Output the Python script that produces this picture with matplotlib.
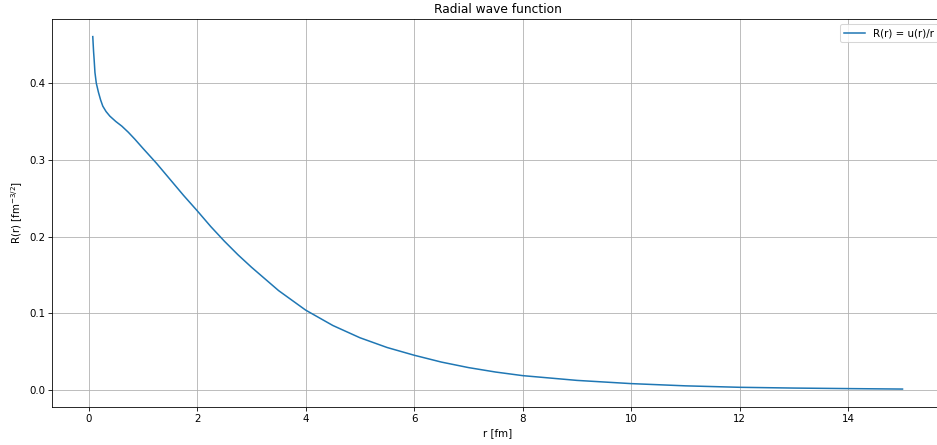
import matplotlib
matplotlib.use('Agg')
import matplotlib.pyplot as plt

# values
r = [0.075, 0.09, 0.10, 0.115, 0.14, 0.18, 0.22, 0.26, 0.32, 0.39, 0.5,
     0.61, 0.73, 0.85, 1.0, 1.25, 1.5, 1.75, 2.0, 2.25, 2.5, 2.75, 3.0,
     3.5, 4.0, 4.5, 5.0, 5.5, 6.0, 6.5, 7.0, 7.5, 8.0, 9.0, 10.0,
     11.0, 12.0, 13.0, 14.0, 15.0]
R = [0.4607, 0.441, 0.431, 0.414, 0.400, 0.388, 0.378, 0.370, 0.363, 0.357, 0.350,
     0.344, 0.336, 0.327, 0.315, 0.2955, 0.2745, 0.2535, 0.2336, 0.2130, 0.1940, 0.1763, 0.160,
     0.1295, 0.1040, 0.0840, 0.0680, 0.0553, 0.0452, 0.0363, 0.0291, 0.0233, 0.0186, 0.0124, 0.0082,
     0.0053, 0.0034, 0.0024, 0.0017, 0.0011]

dpi = 73.5
fig = plt.figure(figsize=(937 / dpi, 445 / dpi), dpi=dpi)
ax = fig.add_axes([0.0558, 0.0861, 0.9506, 0.8712])
ax.plot(r, R, label='R(r) = u(r)/r')
ax.set_xlabel('r [fm]')
ax.set_ylabel('R(r) [fm$^{-3/2}$]')
ax.set_title('Radial wave function')
ax.grid(True)
ax.legend(loc='upper right')
fig.savefig('out.png', dpi=dpi)
